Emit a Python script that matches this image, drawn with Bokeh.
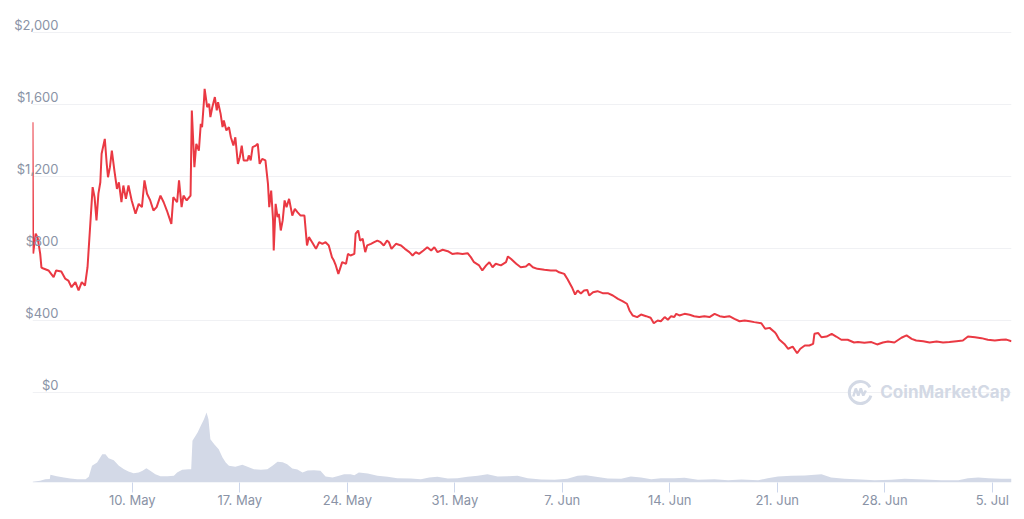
import pandas as pd
from bokeh.plotting import figure
from bokeh.models import Range1d, FixedTicker, LinearAxis
from bokeh.core.properties import value
from bokeh.embed import file_html
from bokeh.resources import INLINE

# ---- data ----
# price: hours since 2021-05-03 00:00 UTC, price in USD
price_hours = [12, 13, 17, 20, 24, 26, 29, 37, 45, 49, 57, 63, 68, 73, 79, 84, 89, 94, 98, 102,
               106, 109, 112, 115, 118, 120, 125, 128, 130, 133, 136, 140, 144, 147, 151, 154, 158,
               162, 167, 173, 178, 183, 187, 191, 196, 201, 206, 212, 217, 222, 229, 232, 238, 241,
               245, 248, 253, 259, 261, 265, 268, 272, 275, 277, 280, 281, 285, 288, 290, 293, 297,
               300, 302, 306, 309, 311, 315, 319, 322, 326, 329, 333, 336, 339, 342, 348, 350, 353,
               356, 361, 364, 367, 371, 376, 380, 382, 385, 388, 389, 392, 395, 397, 400, 403, 406,
               409, 413, 418, 422, 426, 431, 437, 441, 444, 449, 455, 460, 465, 470, 475, 480, 483,
               486, 490, 496, 502, 505, 509, 515, 517, 521, 524, 528, 532, 535, 541, 546, 551, 556,
               561, 566, 569, 573, 580, 588, 594, 601, 606, 611, 616, 623, 629, 635, 640, 645, 653,
               661, 668, 676, 684, 692, 697, 702, 710, 715, 721, 726, 731, 736, 744, 752, 755, 760,
               768, 775, 783, 788, 794, 801, 812, 822, 830, 835, 843, 848, 855, 860, 864, 869, 874,
               879, 882, 888, 895, 903, 911, 919, 927, 934, 941, 945, 950, 957, 963, 971, 978, 983,
               989, 994, 1000, 1005, 1010, 1015, 1018, 1023, 1031, 1039, 1046, 1054, 1062, 1070,
               1078, 1086, 1093, 1101, 1109, 1117, 1125, 1133, 1140, 1151, 1157, 1164, 1172, 1174,
               1179, 1187, 1193, 1200, 1207, 1212, 1219, 1226, 1232, 1234, 1240, 1245, 1253, 1261,
               1268, 1276, 1286, 1296, 1302, 1312, 1323, 1332, 1341, 1349, 1359, 1370, 1378, 1386,
               1393, 1404, 1414, 1425, 1435, 1445, 1456, 1466, 1474, 1485, 1495, 1505, 1516, 1526,
               1534, 1542]
price_usd = [1502, 772, 883, 860, 772, 694, 689, 678, 641, 678, 672, 633, 622, 585, 613, 567, 613,
             594, 696, 918, 1141, 1085, 956, 1105, 1168, 1326, 1409, 1270, 1196, 1252, 1344, 1233,
             1131, 1168, 1057, 1150, 1076, 1150, 1067, 993, 1048, 1030, 1178, 1104, 1067, 1011,
             1030, 1094, 1057, 1011, 937, 1085, 1057, 1178, 1030, 1094, 1067, 1094, 1567, 1252,
             1382, 1344, 1493, 1474, 1622, 1687, 1585, 1604, 1530, 1585, 1641, 1567, 1613, 1548,
             1474, 1511, 1456, 1474, 1418, 1372, 1418, 1270, 1307, 1372, 1289, 1289, 1317, 1289,
             1363, 1372, 1382, 1270, 1298, 1289, 1159, 1030, 1122, 956, 789, 1048, 974, 993, 900,
             956, 1067, 1030, 1076, 983, 1020, 1002, 983, 983, 817, 863, 835, 798, 835, 826, 835,
             817, 752, 733, 706, 659, 724, 715, 770, 761, 770, 882, 900, 844, 854, 780, 817, 826,
             835, 844, 835, 817, 844, 835, 798, 826, 817, 798, 780, 761, 780, 770, 789, 807, 789,
             807, 780, 793, 785, 770, 774, 770, 774, 752, 724, 706, 678, 706, 724, 696, 715, 706,
             724, 756, 742, 715, 696, 700, 715, 696, 687, 682, 678, 678, 668, 659, 631, 585, 544,
             567, 550, 567, 570, 539, 557, 563, 552, 552, 539, 520, 508, 493, 456, 428, 419, 433,
             424, 415, 385, 400, 396, 419, 404, 424, 419, 437, 428, 437, 432, 424, 419, 424, 419,
             437, 424, 419, 424, 409, 396, 400, 396, 391, 385, 354, 359, 335, 326, 295, 270, 243,
             255, 218, 243, 261, 261, 270, 326, 330, 307, 311, 326, 311, 293, 293, 278, 280, 276,
             280, 267, 278, 283, 278, 304, 317, 298, 289, 285, 278, 283, 278, 280, 285, 289, 311,
             307, 302, 293, 289, 293, 294, 285]

# volume: hours since 2021-05-03 00:00 UTC, relative volume (arbitrary units)
vol_hours = [12, 24, 32, 39, 40, 50, 61, 71, 82, 95, 100, 105, 113, 121, 126, 131, 139, 147, 155,
             162, 170, 178, 184, 190, 196, 204, 212, 223, 233, 238, 246, 256, 260, 262, 270, 275,
             280, 284, 287, 290, 296, 303, 309, 314, 319, 329, 340, 348, 358, 369, 379, 387, 395,
             403, 410, 418, 426, 434, 442, 452, 462, 470, 481, 491, 499, 509, 515, 522, 536, 551,
             567, 582, 603, 619, 632, 645, 661, 676, 692, 708, 723, 739, 755, 770, 786, 807, 828,
             848, 864, 877, 890, 911, 932, 947, 963, 979, 994, 1015, 1031, 1052, 1078, 1099, 1120,
             1146, 1161, 1177, 1198, 1219, 1245, 1260, 1281, 1307, 1328, 1354, 1375, 1406, 1432,
             1459, 1474, 1490, 1506, 1526, 1542]
vol_rel = [7, 17, 33, 35, 77, 63, 50, 40, 33, 33, 57, 167, 200, 283, 283, 243, 223, 167, 133, 110,
           93, 100, 117, 143, 117, 83, 63, 63, 67, 100, 127, 133, 133, 417, 500, 567, 633, 700, 633,
           433, 383, 333, 250, 200, 167, 157, 177, 157, 133, 127, 133, 167, 207, 203, 183, 140, 130,
           100, 120, 123, 117, 60, 50, 67, 83, 83, 73, 100, 90, 67, 57, 43, 40, 33, 50, 57, 40, 43,
           57, 67, 83, 60, 63, 67, 43, 30, 27, 37, 67, 73, 60, 40, 37, 60, 50, 33, 43, 43, 47, 27,
           33, 23, 30, 23, 43, 60, 67, 70, 83, 50, 37, 30, 23, 27, 37, 30, 23, 23, 43, 50, 43, 37,
           37]

y_ticks = [0, 400, 800, 1200, 1600, 2000]
y_tick_labels = ["$0", "$400", "$800", "$1,200", "$1,600", "$2,000"]
x_tick_dates = ["2021-05-10", "2021-05-17", "2021-05-24", "2021-05-31", "2021-06-07",
                "2021-06-14", "2021-06-21", "2021-06-28", "2021-07-05"]
x_tick_labels = ["10. May", "17. May", "24. May", "31. May", "7. Jun", "14. Jun", "21. Jun",
                 "28. Jun", "5. Jul"]

# ---- build ----
base = pd.Timestamp("2021-05-03")
p_time = base + pd.to_timedelta(price_hours, unit="h")
v_time = base + pd.to_timedelta(vol_hours, unit="h")

FONT = "Inter"
LABEL_COLOR = "#8a93a6"
Y0, Y1 = -500, 2111.1
px_usd = (Y1 - Y0) / 470   # dollars per pixel
lift = 7 * px_usd          # labels sit ~7px above their grid line

p = figure(output_backend="svg", toolbar_location=None,
           frame_width=979, frame_height=470,
           min_border_left=32, min_border_right=5, min_border_top=12, min_border_bottom=0,
           x_axis_type="datetime",
           x_range=Range1d(p_time[0], p_time[-1]),
           y_range=Range1d(Y0, Y1))
p.outline_line_color = None
p.background_fill_color = "white"
p.border_fill_color = "white"

p.extra_y_ranges = {"vol": Range1d(0, 4700),
                    "lab": Range1d(Y0 - lift, Y1 - lift)}

# y grid only (default axis hidden)
p.yaxis.visible = False
p.yaxis.ticker = FixedTicker(ticks=y_ticks)
p.ygrid.ticker = FixedTicker(ticks=y_ticks)
p.ygrid.grid_line_color = "#f0f1f4"
p.ygrid.grid_line_width = 1
p.xgrid.visible = False

# y labels: an axis whose labels are pushed into the plot area
lab_axis = LinearAxis(y_range_name="lab", ticker=FixedTicker(ticks=y_ticks),
                      major_label_overrides={t: s for t, s in zip(y_ticks, y_tick_labels)})
lab_axis.axis_line_color = None
lab_axis.major_tick_line_color = None
lab_axis.minor_tick_line_color = None
lab_axis.major_tick_out = 0
lab_axis.major_tick_in = 0
lab_axis.major_label_standoff = -26
lab_axis.major_label_text_font = FONT
lab_axis.major_label_text_font_size = "13px"
lab_axis.major_label_text_color = LABEL_COLOR
p.add_layout(lab_axis, "left")

# x axis
tick_ms = [pd.Timestamp(d).value / 1e6 for d in x_tick_dates]
p.xaxis.ticker = FixedTicker(ticks=tick_ms)
p.xaxis.major_label_overrides = {t: lab for t, lab in zip(tick_ms, x_tick_labels)}
p.xaxis.axis_line_color = None
p.xaxis.major_tick_line_color = "#ccd6eb"
p.xaxis.major_tick_out = 10
p.xaxis.major_tick_in = 0
p.xaxis.minor_tick_line_color = None
p.xaxis.major_label_text_font = FONT
p.xaxis.major_label_text_font_size = "13px"
p.xaxis.major_label_text_color = LABEL_COLOR
p.xaxis.major_label_standoff = -1

# volume (values already in the extra range's units)
p.varea(x=v_time, y1=0, y2=vol_rel, y_range_name="vol",
        fill_color="#d3d9e7", fill_alpha=1.0)

# price line
p.line(x=p_time, y=price_usd, line_color="#ea3943", line_width=2)

# watermark
px_h = 24 / 15.34          # hours per pixel
logo_t = base + pd.Timedelta(hours=1305.7)
p.arc(x=[logo_t], y=[0], radius=11, radius_units="screen", start_angle=0.5, end_angle=6.0,
      line_color="#d3d9e5", line_width=3)
m_dx = [-7, -4.5, -2, 0.5, 3, 5.5]
m_dy = [4, -4, 3, -4, 3, -2]
p.line(x=[base + pd.Timedelta(hours=1305.7 + d * px_h) for d in m_dx],
       y=[-d * px_usd for d in m_dy], line_color="#d3d9e5", line_width=2.5)
p.text(x=[logo_t], y=[0], text=["CoinMarketCap"], text_font=value(FONT),
       text_font_size="17px", text_font_style="bold", text_color="#d3d9e5",
       text_align="left", text_baseline="middle", x_offset=20)

open("out.html", "w").write(file_html(p, INLINE))
